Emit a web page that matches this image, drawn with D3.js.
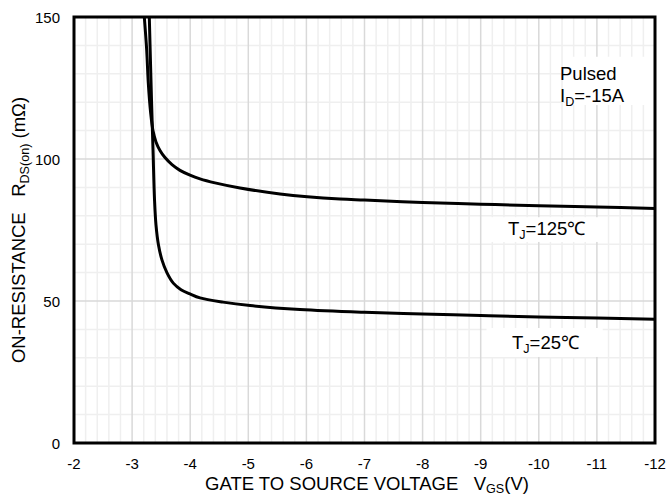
<!DOCTYPE html>
<html>
<head>
<meta charset="utf-8">
<script src="https://cdn.jsdelivr.net/npm/d3@7"></script>
<style>
  body { margin: 0; background: #fff; }
  text { font-family: "Liberation Sans", Arial, sans-serif; fill: #000; }
</style>
</head>
<body>
<div id="chart"></div>
<script>
// data
const vgs125 = [-3.21, -3.251, -3.279, -3.32, -3.36, -3.411, -3.48, -3.566, -3.687, -3.824, -3.997, -4.169, -4.427, -4.857, -5.546, -6.578, -7.0, -8.0, -9.0, -10.0, -11.0, -12.0];
const rds125 = [150, 138.4, 126.7, 116.1, 109.9, 106.0, 103.0, 100.5, 98.0, 96.0, 94.3, 93.0, 91.6, 89.8, 87.7, 85.9, 85.55, 84.7, 84.1, 83.5, 83.1, 82.6];

const vgs25 = [-3.296, -3.334, -3.36, -3.386, -3.411, -3.454, -3.515, -3.601, -3.709, -3.842, -3.997, -4.169, -4.565, -5.03, -5.89, -7.0, -8.0, -9.0, -10.0, -11.0, -12.0];
const rds25 = [150, 120.8, 103.2, 85.6, 76.8, 69.7, 64.4, 59.9, 56.3, 54.0, 52.5, 51.1, 49.6, 48.4, 47.0, 46.0, 45.4, 44.9, 44.4, 44.0, 43.6];

const xTicks = [-2, -3, -4, -5, -6, -7, -8, -9, -10, -11, -12];
const yTicks = [0, 50, 100, 150];

(function () {
    const W = 667, H = 495;
    const margin = { top: 17, right: 12, bottom: 52, left: 74 };
    const width = W - margin.left - margin.right;
    const height = H - margin.top - margin.bottom;
    const fs = 18.5; // title / note font size

    const svg = d3.select("#chart").append("svg")
        .attr("width", W)
        .attr("height", H);

    const x = d3.scaleLinear().domain([-2, -12]).range([margin.left, margin.left + width]);
    const y = d3.scaleLinear().domain([0, 150]).range([margin.top + height, margin.top]);

    // grid: minor first, then major
    const g = svg.append("g");
    const minorX = d3.range(-2, -12.001, -0.2).filter(v => Math.abs(v - Math.round(v)) > 0.01);
    const minorY = d3.range(0, 150.1, 10).filter(v => v % 50 !== 0);

    g.selectAll(".mx").data(minorX).enter().append("line")
        .attr("x1", d => x(d)).attr("x2", d => x(d))
        .attr("y1", y(0)).attr("y2", y(150))
        .attr("stroke", "#efefef").attr("stroke-width", 1.5);
    g.selectAll(".my").data(minorY).enter().append("line")
        .attr("x1", x(-2)).attr("x2", x(-12))
        .attr("y1", d => y(d)).attr("y2", d => y(d))
        .attr("stroke", "#efefef").attr("stroke-width", 1.5);
    g.selectAll(".Mx").data(xTicks).enter().append("line")
        .attr("x1", d => x(d)).attr("x2", d => x(d))
        .attr("y1", y(0)).attr("y2", y(150))
        .attr("stroke", "#d9d9d9").attr("stroke-width", 1.5);
    g.selectAll(".My").data(yTicks).enter().append("line")
        .attr("x1", x(-2)).attr("x2", x(-12))
        .attr("y1", d => y(d)).attr("y2", d => y(d))
        .attr("stroke", "#d9d9d9").attr("stroke-width", 1.5);

    // label boxes (white, hide grid)
    const boxes = [
        { x0: -10.45, x1: -12, y0: 136, y1: 119 },
        { x0: -9.1, x1: -11.1, y0: 79.5, y1: 70.8 },
        { x0: -9.1, x1: -11.1, y0: 40.5, y1: 30.3 }
    ];
    svg.selectAll(".box").data(boxes).enter().append("rect")
        .attr("x", d => x(d.x0))
        .attr("y", d => y(d.y0))
        .attr("width", d => x(d.x1) - x(d.x0))
        .attr("height", d => y(d.y1) - y(d.y0))
        .attr("fill", "#fff");

    // curves
    svg.append("clipPath").attr("id", "clip")
        .append("rect")
        .attr("x", margin.left).attr("y", margin.top)
        .attr("width", width).attr("height", height);

    const line = d3.line()
        .x(d => x(d[0]))
        .y(d => y(d[1]))
        .curve(d3.curveCatmullRom.alpha(0.5));

    const series = [
        d3.zip(vgs125, rds125),
        d3.zip(vgs25, rds25)
    ];
    svg.selectAll(".curve").data(series).enter().append("path")
        .attr("clip-path", "url(#clip)")
        .attr("d", line)
        .attr("fill", "none")
        .attr("stroke", "#000")
        .attr("stroke-width", 3)
        .attr("stroke-linejoin", "round");

    // frame
    svg.append("rect")
        .attr("x", margin.left).attr("y", margin.top)
        .attr("width", width).attr("height", height)
        .attr("fill", "none").attr("stroke", "#000").attr("stroke-width", 3);

    // tick labels
    svg.selectAll(".xt").data(xTicks).enter().append("text")
        .attr("x", d => x(d))
        .attr("y", y(0) + 26)
        .attr("text-anchor", "middle")
        .style("font-size", "15px")
        .text(d => d);
    svg.selectAll(".yt").data(yTicks).enter().append("text")
        .attr("x", margin.left - 14)
        .attr("y", d => y(d) + 5.5)
        .attr("text-anchor", "end")
        .style("font-size", "15px")
        .text(d => d);

    // helper: text with subscript
    function subText(sel, parts, size, drop) {
        parts.forEach(p => {
            const t = sel.append("tspan").text(p.t);
            if (p.sub) t.style("font-size", (size * 0.68) + "px").attr("dy", drop);
            else if (p.after) t.attr("dy", -drop);
        });
    }

    // axis titles
    const xt = svg.append("text")
        .attr("x", 367).attr("y", 490)
        .attr("text-anchor", "middle")
        .style("font-size", fs + "px");
    subText(xt, [{ t: "GATE TO SOURCE VOLTAGE\u00a0\u00a0\u00a0V" }, { t: "GS", sub: true }, { t: "(V)", after: true }], fs, 3);

    const yt = svg.append("text")
        .attr("transform", "translate(25,230) rotate(-90)")
        .attr("text-anchor", "middle")
        .style("font-size", fs + "px");
    subText(yt, [{ t: "ON-RESISTANCE\u00a0\u00a0\u00a0R" }, { t: "DS(on)", sub: true }, { t: "\u00a0(m\u03a9)", after: true }], fs, 4);

    // annotations
    svg.append("text").attr("x", 560).attr("y", 80)
        .style("font-size", fs + "px").text("Pulsed");
    const id = svg.append("text").attr("x", 560).attr("y", 102)
        .style("font-size", fs + "px");
    subText(id, [{ t: "I" }, { t: "D", sub: true }, { t: "=-15A", after: true }], fs, 4);

    const t125 = svg.append("text").attr("x", 508).attr("y", 235)
        .style("font-size", fs + "px");
    subText(t125, [{ t: "T" }, { t: "J", sub: true }, { t: "=125\u2103", after: true }], fs, 4);

    const t25 = svg.append("text").attr("x", 512).attr("y", 349)
        .style("font-size", fs + "px");
    subText(t25, [{ t: "T" }, { t: "J", sub: true }, { t: "=25\u2103", after: true }], fs, 4);
})();
</script>
</body>
</html>
